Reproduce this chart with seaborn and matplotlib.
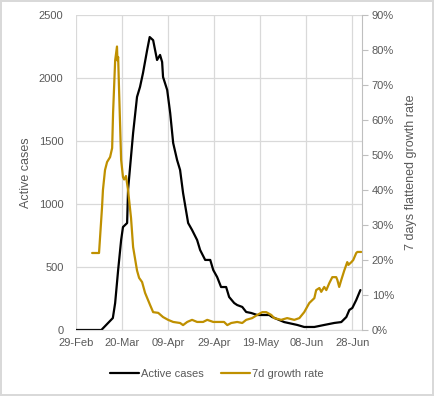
import matplotlib
matplotlib.use("Agg")
import matplotlib.pyplot as plt
from matplotlib.ticker import FuncFormatter, MultipleLocator
import seaborn as sns
import pandas as pd
import numpy as np

# ---- data (day offsets from 29-Feb-2020) ----
active_days = [0, 11, 16, 17, 18.3, 19.6, 20.4, 22.2, 22.6, 24.8, 26.5, 27.8, 29.1, 30.9, 32, 33.5,
               35.2, 36.5, 37.4, 37.8, 39.6, 40.9, 42.2, 43.9, 45.2, 46.5, 48.7, 50.4, 52.6, 53.9,
               56.1, 58.3, 59.6, 61.3, 63, 65.2, 66.5, 68.7, 70, 72.2, 73.9, 76.1, 78.7, 83.9, 85.2,
               90.4, 96.1, 99.1, 103.5, 107.8, 112.2, 115.2, 117.4, 118.7, 120, 121.7, 123.5]
active_vals = [0, 0, 95, 214, 476, 714, 817, 849, 1111, 1563, 1850, 1929, 2040, 2222, 2325, 2300,
               2143, 2183, 2127, 2008, 1905, 1722, 1484, 1349, 1270, 1087, 849, 794, 714, 635,
               556, 556, 476, 420, 341, 341, 262, 214, 198, 183, 143, 135, 119, 119, 103,
               63, 40, 24, 24, 40, 56, 63, 103, 159, 175, 238, 317]

growth_days = [7, 10, 11.3, 11.7, 12.6, 13.5, 14.8, 15.7, 16.1, 17, 17.8, 18, 18.3, 18.7, 19.6,
               20.4, 20.9, 21.7, 22.6, 23.9, 24.8, 26.5, 27.4, 28.7, 30, 32.2, 33.5, 35.7, 37.8,
               40, 42.2, 45.2, 46.5, 48.3, 50.4, 52.6, 55.2, 57, 59.6, 64.3, 65.7, 67.4, 70, 72.2,
               73.9, 76.5, 78.7, 80.9, 82.6, 84.8, 86.1, 89.1, 91.7, 94.8, 97, 99.1, 101.3, 103.5,
               104.3, 105.7, 106.5, 107.8, 108.7, 110, 111.3, 113, 113.5, 114.3, 115.2, 116.5,
               117.8, 118.3, 119.6, 120.4, 121.7, 122.2, 123.9]
growth_vals = [22, 22, 35, 40, 45.7, 48, 49.4, 52, 62, 77, 81, 77, 78, 68.6, 48.6,
               43.7, 43, 44, 40, 32, 23.7, 17, 14.9, 13.7, 10.6, 7.1, 5.1, 4.9, 3.7,
               2.9, 2.3, 2.0, 1.4, 2.3, 2.9, 2.3, 2.3, 2.9, 2.3, 2.3, 1.4, 2.0, 2.3, 2.0,
               2.9, 3.4, 4.3, 5.1, 5.1, 4.3, 3.4, 2.9, 3.4, 2.9, 3.4, 5.1, 7.7, 9.1,
               11.4, 12, 10.9, 12.3, 11.4, 13.4, 15.1, 15.1, 14.3, 12.3, 14.3, 17,
               19.4, 18.6, 19.4, 20, 22, 22.3, 22.3]

tick_labels = ["29-Feb", "20-Mar", "09-Apr", "29-Apr", "19-May", "08-Jun", "28-Jun"]

start = pd.Timestamp("2020-02-29")
df_a = pd.DataFrame({"date": start + pd.to_timedelta(active_days, unit="D"), "Active cases": active_vals})
df_g = pd.DataFrame({"date": start + pd.to_timedelta(growth_days, unit="D"), "rate": np.array(growth_vals) / 100})

sns.set_style("white")
plt.rcParams["font.family"] = ["Liberation Sans", "DejaVu Sans"]

txt = "#595959"
grid = "#d9d9d9"
gold = "#BF9000"

fig = plt.figure(figsize=(4.34, 3.96), dpi=100)
fig.patch.set_edgecolor(grid)
fig.patch.set_linewidth(1.5)
ax = fig.add_axes([76/434, 66/396, (362-76)/434, (330-15)/396])
ax2 = ax.twinx()

sns.lineplot(data=df_a, x="date", y="Active cases", ax=ax, color="black", linewidth=1.6, label="Active cases", legend=False)
sns.lineplot(data=df_g, x="date", y="rate", ax=ax2, color=gold, linewidth=1.6, label="7d growth rate", legend=False)

ax.set_xlim(start, start + pd.Timedelta(days=124.2))
ax.set_ylim(0, 2500)
ax2.set_ylim(0, 0.9)
ax.yaxis.set_major_locator(MultipleLocator(500))
ax2.yaxis.set_major_locator(MultipleLocator(0.1))
ax2.yaxis.set_major_formatter(FuncFormatter(lambda v, p: f"{v*100:.0f}%"))

tick_dates = [start + pd.Timedelta(days=20 * i) for i in range(len(tick_labels))]
ax.set_xticks(tick_dates)
ax.set_xticklabels(tick_labels)

ax.grid(True, color=grid, linewidth=0.9)
ax.set_axisbelow(True)
for a in (ax, ax2):
    for s in a.spines.values():
        s.set_visible(False)
ax.spines["bottom"].set_visible(True)
ax.spines["bottom"].set_color(grid)
ax2.spines["right"].set_visible(True)
ax2.spines["right"].set_color("#bfbfbf")

ax.tick_params(axis="x", colors=txt, labelsize=8, length=0, pad=6)
ax.tick_params(axis="y", colors=txt, labelsize=8, length=0, pad=9)
ax2.tick_params(axis="y", colors=txt, labelsize=8, length=4, width=0.8, color="#bfbfbf", pad=3)

ax.set_xlabel("")
ax.set_ylabel("Active cases", color=txt, fontsize=9, labelpad=5)
ax2.set_ylabel("7 days flattened growth rate", color=txt, fontsize=9, labelpad=8)

h1, l1 = ax.get_legend_handles_labels()
h2, l2 = ax2.get_legend_handles_labels()
fig.legend(h1 + h2, l1 + l2, loc="center", bbox_to_anchor=(0.5, 22/396), ncol=2, frameon=False,
           fontsize=8, labelcolor=txt, handlelength=2.6, columnspacing=1.6, handletextpad=0.15)

fig.savefig("out.png", dpi=100, edgecolor=fig.get_edgecolor())
